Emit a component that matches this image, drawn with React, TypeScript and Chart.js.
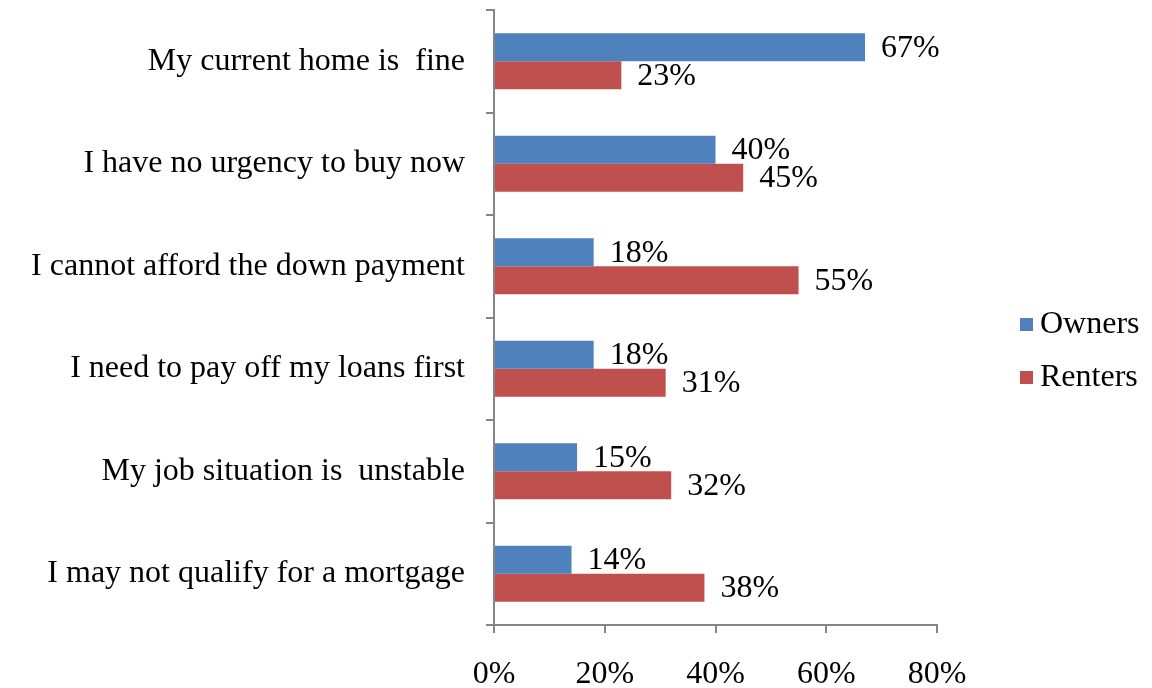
import React, { useEffect, useRef } from "react";
import { Chart, registerables } from "chart.js";

Chart.register(...registerables);

const categories = [
  "My current home is  fine",
  "I have no urgency to buy now",
  "I cannot afford the down payment",
  "I need to pay off my loans first",
  "My job situation is  unstable",
  "I may not qualify for a mortgage",
];
const ownersValues = [67, 40, 18, 18, 15, 14];
const rentersValues = [23, 45, 55, 31, 32, 38];
const seriesNames = ["Owners", "Renters"];
const seriesColors = ["#4F81BD", "#C0504D"];
const xMin = 0;
const xMax = 80;
const xStep = 20;

const FONT = "'Liberation Serif', 'Times New Roman', serif";
const AXIS_COLOR = "#868686";
const FS = 32;

const dataLabelPlugin = {
  id: "dataLabels",
  afterDatasetsDraw(chart: any) {
    const ctx = chart.ctx;
    ctx.save();
    ctx.font = `${FS}px ${FONT}`;
    ctx.fillStyle = "#000";
    ctx.textAlign = "left";
    ctx.textBaseline = "middle";
    chart.data.datasets.forEach((ds: any, di: number) => {
      const meta = chart.getDatasetMeta(di);
      meta.data.forEach((el: any, i: number) => {
        ctx.fillText(`${ds.data[i]}%`, el.x + 16, el.y + 1);
      });
    });
    ctx.restore();
  },
};

const legendPlugin = {
  id: "customLegend",
  afterDraw(chart: any) {
    const ctx = chart.ctx;
    const area = chart.chartArea;
    ctx.save();
    ctx.font = `${FS}px ${FONT}`;
    ctx.textAlign = "left";
    ctx.textBaseline = "middle";
    chart.data.datasets.forEach((ds: any, i: number) => {
      const y = area.top + 315 + i * 53;
      const x = area.right + 83;
      ctx.fillStyle = ds.backgroundColor;
      ctx.fillRect(x, y - 7, 13, 13);
      ctx.fillStyle = "#000";
      ctx.fillText(ds.label, x + 20, y);
    });
    ctx.restore();
  },
};

export default function App() {
  const canvasRef = useRef<HTMLCanvasElement | null>(null);

  useEffect(() => {
    if (!canvasRef.current) return;
    const chart = new Chart(canvasRef.current, {
      type: "bar",
      data: {
        labels: categories,
        datasets: [
          {
            label: seriesNames[0],
            data: ownersValues,
            backgroundColor: seriesColors[0],
            categoryPercentage: 0.545,
            barPercentage: 1.0,
          },
          {
            label: seriesNames[1],
            data: rentersValues,
            backgroundColor: seriesColors[1],
            categoryPercentage: 0.545,
            barPercentage: 1.0,
          },
        ],
      },
      options: {
        indexAxis: "y",
        animation: false,
        responsive: true,
        maintainAspectRatio: false,
        layout: { padding: { left: 0, right: 215, top: 10, bottom: 0 } },
        plugins: {
          legend: { display: false },
          tooltip: { enabled: false },
        },
        scales: {
          x: {
            type: "linear",
            min: xMin,
            max: xMax,
            afterFit: (scale: any) => {
              scale.height = 63;
              scale.paddingLeft = 0;
            },
            ticks: {
              stepSize: xStep,
              callback: (v: any) => `${v}%`,
              font: { family: FONT, size: FS },
              color: "#000",
              padding: 22,
            },
            grid: {
              drawOnChartArea: false,
              drawTicks: true,
              tickLength: 8,
              color: AXIS_COLOR,
              lineWidth: 2,
            },
            border: { display: true, color: AXIS_COLOR, width: 2 },
          },
          y: {
            type: "category",
            afterFit: (scale: any) => {
              scale.width = 494;
              scale.paddingTop = 0;
              scale.paddingBottom = 0;
            },
            ticks: {
              font: { family: FONT, size: FS },
              color: "#000",
              padding: 21,
            },
            grid: {
              offset: true,
              drawOnChartArea: false,
              drawTicks: true,
              tickLength: 8,
              color: AXIS_COLOR,
              lineWidth: 2,
            },
            border: { display: true, color: AXIS_COLOR, width: 2 },
          },
        },
      },
      plugins: [dataLabelPlugin, legendPlugin],
    } as any);
    return () => chart.destroy();
  }, []);

  return (
    <div
      style={{
        position: "fixed",
        left: 0,
        top: 0,
        width: 1152,
        height: 688,
        background: "#fff",
      }}
    >
      <canvas ref={canvasRef} />
    </div>
  );
}
